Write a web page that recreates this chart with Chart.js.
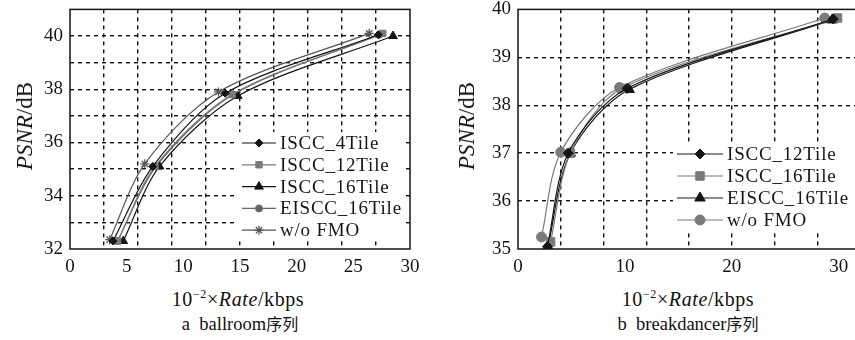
<!DOCTYPE html>
<html>
<head>
<meta charset="utf-8">
<script src="https://cdn.jsdelivr.net/npm/chart.js@4.4.0/dist/chart.umd.min.js"></script>
<style>
  body { margin: 0; background: #fff; width: 855px; height: 340px; overflow: hidden; position: relative;
         font-family: "Liberation Serif", "Times New Roman", "DejaVu Serif", serif; color: #111; }
  canvas { position: absolute; top: -9px; }
  #ballroom { left: 0; }
  #breakdancer { left: 430px; }
  .txt { position: absolute; white-space: nowrap; transform: translate(-50%, -50%); }
  .xt { font-size: 20px; letter-spacing: 0.6px; }
  .cap { font-size: 18.5px; }
  .cap span { font-family: "Noto Sans CJK SC"; font-size: 16px; }
  .yt { font-size: 23px; transform: translate(-50%, -50%) rotate(-90deg); }
</style>
</head>
<body>
<canvas id="ballroom" width="430" height="294"></canvas>
<canvas id="breakdancer" width="440" height="294"></canvas>

<div class="txt yt" style="left:25px;top:126px"><i>PSNR</i>/dB</div>
<div class="txt yt" style="left:467px;top:126px"><i>PSNR</i>/dB</div>
<div class="txt xt" style="left:238px;top:299px">10<sup style="font-size:12px">−2</sup>×<i>Rate</i>/kbps</div>
<div class="txt xt" style="left:688px;top:299px">10<sup style="font-size:12px">−2</sup>×<i>Rate</i>/kbps</div>
<div class="txt cap" style="left:240px;top:323px">a&nbsp;&nbsp;ballroom<span>序列</span></div>
<div class="txt cap" style="left:688px;top:323px">b&nbsp;&nbsp;breakdancer<span>序列</span></div>

<script>
// a: ballroom
var ballroomRate4 = [3.8, 7.3, 13.7, 27.2];
var ballroomPsnr4 = [32.3, 35.1, 37.85, 40.05];
var ballroomRate12 = [4.2, 7.5, 14.3, 27.6];
var ballroomPsnr12 = [32.3, 35.1, 37.8, 40.1];
var ballroomRate16 = [4.7, 7.9, 14.8, 28.5];
var ballroomPsnr16 = [32.3, 35.1, 37.75, 40.0];
var ballroomRateE16 = [4.2, 7.6, 14.4, 27.3];
var ballroomPsnrE16 = [32.3, 35.1, 37.8, 40.05];
var ballroomRateNoFmo = [3.5, 6.6, 13.1, 26.4];
var ballroomPsnrNoFmo = [32.35, 35.2, 37.9, 40.1];

// b: breakdancer
var breakRate12 = [2.75, 4.7, 10.2, 29.5];
var breakPsnr12 = [35.05, 37.0, 38.35, 39.8];
var breakRate16 = [3.05, 4.9, 9.7, 29.9];
var breakPsnr16 = [35.15, 37.0, 38.35, 39.82];
var breakRateE16 = [2.8, 4.9, 10.4, 29.4];
var breakPsnrE16 = [35.05, 37.0, 38.33, 39.78];
var breakRateNoFmo = [2.2, 4.0, 9.5, 28.7];
var breakPsnrNoFmo = [35.25, 37.02, 38.37, 39.82];

// axis ticks: labelled values and dashed grid values
var ballroomXLabels = [0, 5, 10, 15, 20, 25, 30];
var ballroomXGrid = [3, 6, 9, 12, 15, 18, 21, 24, 27];
var ballroomYLabels = [32, 34, 36, 38, 40];
var ballroomYGrid = [33, 34, 35, 36, 37, 38, 39, 40];
var breakXLabels = [0, 10, 20, 30];
var breakXGrid = [4, 8, 12, 16, 20, 24, 28];
var breakYLabels = [35, 36, 37, 38, 39, 40];
var breakYGrid = [36, 37, 38, 39];

var FONT = '"Liberation Serif", "Times New Roman", "DejaVu Serif", serif';
var BLACK = '#151515';
var GRAY = '#7a7a7a';

function pts(xs, ys) {
  return xs.map(function (x, i) { return { x: x, y: ys[i] }; });
}

function series(label, xs, ys, color, style, r) {
  return {
    label: label,
    data: pts(xs, ys),
    borderColor: color,
    backgroundColor: color,
    borderWidth: 1.2,
    pointStyle: style,
    pointRadius: r,
    pointBorderWidth: style === 'star' ? 1.3 : 1,
    pointBorderColor: color,
    tension: 0.3
  };
}

// frame + legend drawn over the plot
var frameLegend = {
  id: 'frameLegend',
  afterDatasetsDraw: function (chart, args, o) {
    var ctx = chart.ctx, a = chart.chartArea;
    ctx.save();
    ctx.fillStyle = '#fff';
    ctx.fillRect(o.x, o.y, o.w, o.h);
    ctx.font = o.font;
    ctx.letterSpacing = '0.8px';
    ctx.textBaseline = 'middle';
    chart.data.datasets.forEach(function (ds, i) {
      var y = o.y + o.first + i * o.row;
      ctx.strokeStyle = ds.borderColor;
      ctx.lineWidth = 1.2;
      ctx.beginPath();
      ctx.moveTo(o.x + o.pad, y);
      ctx.lineTo(o.x + o.pad + o.line, y);
      ctx.stroke();
      ctx.fillStyle = ds.backgroundColor;
      ctx.lineWidth = ds.pointBorderWidth;
      Chart.helpers.drawPoint(ctx, { pointStyle: ds.pointStyle, radius: ds.pointRadius, rotation: 0, borderWidth: ds.pointBorderWidth },
        o.x + o.pad + o.line / 2, y);
      ctx.fillStyle = BLACK;
      ctx.fillText(ds.label, o.x + o.pad + o.line + 4, y + 1);
    });
    ctx.strokeStyle = BLACK;
    ctx.lineWidth = 1.5;
    ctx.strokeRect(a.left, a.top, a.right - a.left, a.bottom - a.top);
    ctx.restore();
  }
};

function axis(min, max, labels, grid, fitKey, fitVal, pad) {
  return {
    type: 'linear',
    min: min,
    max: max,
    afterBuildTicks: function (s) {
      var vals = [];
      for (var v = min; v <= max; v++) vals.push({ value: v });
      s.ticks = vals;
    },
    afterFit: function (s) { s[fitKey] = fitVal; },
    border: { display: false, dash: [4, 4] },
    grid: {
      drawTicks: false,
      lineWidth: 1.4,
      color: function (c) { return grid.indexOf(c.tick.value) >= 0 ? '#111' : 'rgba(0,0,0,0)'; }
    },
    ticks: {
      autoSkip: false,
      maxRotation: 0,
      padding: pad,
      color: BLACK,
      font: { family: FONT, size: 19 },
      callback: function (v) { return labels.indexOf(v) >= 0 ? String(v) : ''; }
    }
  };
}

Chart.defaults.animation = false;

new Chart(document.getElementById('ballroom'), {
  type: 'line',
  data: {
    datasets: [
      series('ISCC_4Tile', ballroomRate4, ballroomPsnr4, BLACK, 'rectRot', 4),
      series('ISCC_12Tile', ballroomRate12, ballroomPsnr12, GRAY, 'rect', 4.5),
      series('ISCC_16Tile', ballroomRate16, ballroomPsnr16, BLACK, 'triangle', 5),
      series('EISCC_16Tile', ballroomRateE16, ballroomPsnrE16, '#666', 'circle', 3.5),
      series('w/o FMO', ballroomRateNoFmo, ballroomPsnrNoFmo, '#555', 'star', 4.5)
    ]
  },
  options: {
    responsive: false,
    devicePixelRatio: 1,
    layout: { padding: { top: 0, right: 20, left: 0, bottom: 0 } },
    scales: {
      x: axis(0, 30, ballroomXLabels, ballroomXGrid, 'height', 36, 7),
      y: axis(32, 41, ballroomYLabels, ballroomYGrid, 'width', 70, 7)
    },
    plugins: {
      legend: { display: false },
      tooltip: { enabled: false },
      frameLegend: { x: 238, y: 141, w: 168, h: 109, first: 11, row: 21.8, pad: 4, line: 34, font: '19px ' + FONT }
    }
  },
  plugins: [frameLegend]
});

new Chart(document.getElementById('breakdancer'), {
  type: 'line',
  data: {
    datasets: [
      series('ISCC_12Tile', breakRate12, breakPsnr12, BLACK, 'rectRot', 5),
      series('ISCC_16Tile', breakRate16, breakPsnr16, GRAY, 'rect', 6),
      series('EISCC_16Tile', breakRateE16, breakPsnrE16, BLACK, 'triangle', 6),
      series('w/o FMO', breakRateNoFmo, breakPsnrNoFmo, GRAY, 'circle', 5)
    ]
  },
  options: {
    responsive: false,
    devicePixelRatio: 1,
    layout: { padding: { top: 0, right: 10, left: 0, bottom: 0 } },
    scales: {
      x: axis(0, 32, breakXLabels, breakXGrid, 'height', 36, 7),
      y: axis(35, 40, breakYLabels, breakYGrid, 'width', 88, 7)
    },
    plugins: {
      legend: { display: false },
      tooltip: { enabled: false },
      frameLegend: { x: 243, y: 152, w: 190, h: 88, first: 11, row: 22, pad: 4, line: 46, font: '19px ' + FONT }
    }
  },
  plugins: [frameLegend]
});
</script>
</body>
</html>
